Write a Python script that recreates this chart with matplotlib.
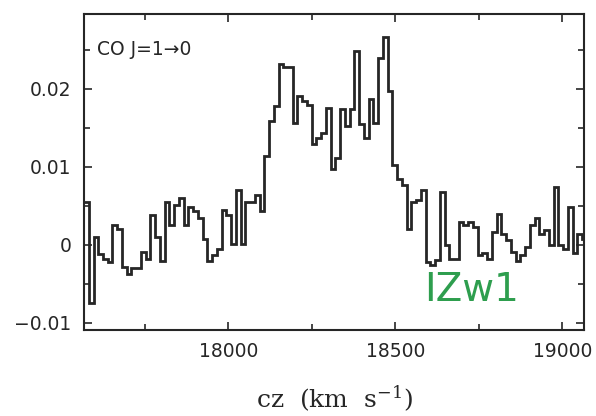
"""
CO J=1-0 spectrum of I Zw 1, redrawn as a step plot.
"""

import numpy as np
import matplotlib
matplotlib.use('Agg')
from matplotlib import pyplot as plt
from matplotlib.ticker import MultipleLocator, FuncFormatter

# channel grid (km/s) and flux per channel
v_start = 17568.0
dv = 14.2
flux = [
    0.0055, -0.0075, 0.0010, -0.0012, -0.0018, -0.0022, 0.0026, 0.0020,
    -0.0028, -0.0037, -0.0030, -0.0030, -0.0009, -0.0018, 0.0039, 0.0010,
    -0.0020, 0.0055, 0.0026, 0.0051, 0.0060, 0.0026, 0.0049, 0.0043,
    0.0034, 0.0008, -0.0021, -0.0013, -0.0005, 0.0045, 0.0039, 0.0001,
    0.0071, 0.0001, 0.0055, 0.0055, 0.0064, 0.0043, 0.0114, 0.0159,
    0.0178, 0.0232, 0.0228, 0.0228, 0.0156, 0.0191, 0.0185, 0.0180,
    0.0130, 0.0137, 0.0143, 0.0176, 0.0097, 0.0111, 0.0174, 0.0152,
    0.0174, 0.0249, 0.0155, 0.0137, 0.0187, 0.0156, 0.0240, 0.0267,
    0.0197, 0.0103, 0.0085, 0.0077, 0.0021, 0.0055, 0.0058, 0.0071,
    -0.0022, -0.0026, -0.0019, 0.0068, 0.0000, -0.0018, -0.0018, 0.0030,
    0.0025, 0.0029, 0.0023, -0.0013, -0.0010, -0.0018, 0.0017, 0.0040,
    0.0014, 0.0006, -0.0009, -0.0020, -0.0013, -0.0003, 0.0026, 0.0034,
    0.0014, 0.0019, 0.0000, 0.0074, 0.0000, -0.0005, 0.0049, -0.0011,
    0.0014, 0.0008,
]
edges = v_start + dv * np.arange(len(flux) + 1)

x_ticks = [18000, 18500, 19000]
y_ticks = [-0.01, 0.0, 0.01, 0.02]
line_label = 'CO J=1\u21920'
source_label = 'IZw1'

plt.rcParams['mathtext.fontset'] = 'dejavuserif'
ink = '#262626'

fig = plt.figure(figsize=(5.96, 4.16), dpi=100)
ax = fig.add_axes([0.141, 0.207, 0.839, 0.759])

ax.stairs(flux, edges, color=ink, linewidth=2.0, baseline=None)

ax.set_xlim(17568, 19065)
ax.set_ylim(-0.0109, 0.0296)

ax.set_xticks(x_ticks)
ax.xaxis.set_minor_locator(MultipleLocator(250))
ax.set_yticks(y_ticks)
ax.yaxis.set_minor_locator(MultipleLocator(0.005))


def fmt_y(v, pos):
    if abs(v) < 1e-9:
        return '0'
    return f'{v:g}'.replace('-', '\u2212')


ax.yaxis.set_major_formatter(FuncFormatter(fmt_y))
ax.tick_params(which='both', direction='in', top=True, right=True,
               width=1.2, labelsize=13.5, colors=ink)
ax.tick_params(which='major', length=6, pad=9)
ax.tick_params(which='minor', length=4)
for sp in ax.spines.values():
    sp.set_linewidth(1.5)
    sp.set_color(ink)

ax.set_xlabel('cz  (km  s$^{-1}$)', family='DejaVu Serif', fontsize=18,
              color=ink, va='top')
ax.xaxis.set_label_coords(0.5, -0.172)

ax.text(0.026, 0.887, line_label, transform=ax.transAxes, fontsize=13.5,
        color=ink, family='DejaVu Sans', va='center')
ax.text(0.774, 0.127, source_label, transform=ax.transAxes, fontsize=28,
        color='#2e9e4e', family='DejaVu Sans', weight='medium',
        ha='center', va='center')

fig.savefig('out.png', dpi=100, facecolor='white')
